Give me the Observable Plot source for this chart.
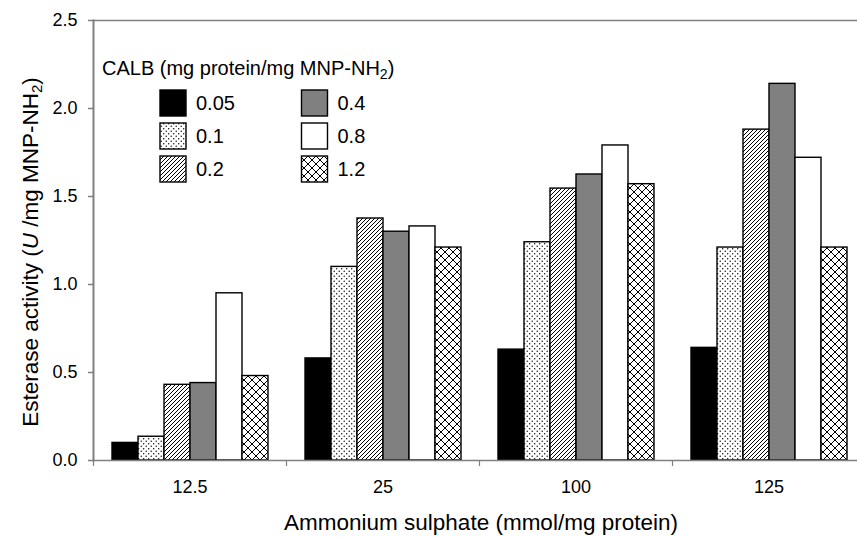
<!DOCTYPE html>
<html>
<head>
<meta charset="utf-8">
<script src="https://cdn.jsdelivr.net/npm/d3@7"></script>
<script src="https://cdn.jsdelivr.net/npm/@observablehq/plot@0.6"></script>
<style>
  html, body { margin: 0; padding: 0; background: #fff; }
  #chart { width: 857px; height: 537px; overflow: hidden; }
</style>
</head>
<body>
<div id="chart"></div>
<script>
// ---- data ----
const groups = ["12.5", "25", "100", "125"];
const calb = ["0.05", "0.1", "0.2", "0.4", "0.8", "1.2"];
const v005 = [0.10, 0.58, 0.63, 0.64];
const v01  = [0.135, 1.10, 1.24, 1.21];
const v02  = [0.43, 1.375, 1.545, 1.88];
const v04  = [0.44, 1.30, 1.625, 2.14];
const v08  = [0.95, 1.33, 1.79, 1.72];
const v12  = [0.48, 1.21, 1.57, 1.21];
const yTicks = [0, 0.5, 1.0, 1.5, 2.0, 2.5];
const fills = ["#000000", "url(#pDots)", "url(#pHatch)", "#808080", "#ffffff", "url(#pCross)"];

const series = [v005, v01, v02, v04, v08, v12];
const rows = [];
groups.forEach((g, gi) => {
  calb.forEach((c, ci) => rows.push({group: g, calb: c, value: series[ci][gi]}));
});

const FONT = "'Liberation Sans', Arial, Helvetica, sans-serif";
const gray = "#808080";

const plot = Plot.plot({
  width: 857,
  height: 537,
  marginLeft: 93,
  marginRight: -8,
  marginTop: 20,
  marginBottom: 77,
  style: {fontFamily: FONT, fontSize: "18px", background: "#fff", color: "#000"},
  fx: {domain: groups, padding: 0, axis: null, label: null},
  x: {domain: calb, padding: 0, insetLeft: 18.5, insetRight: 18.5, axis: null},
  y: {domain: [0, 2.5], axis: null},
  color: {domain: calb, range: fills},
  marks: [
    Plot.ruleY([2.5], {stroke: gray, strokeWidth: 1.5}),
    Plot.barY(rows, {fx: "group", x: "calb", y: "value", fill: "calb", stroke: "#000", strokeWidth: 1.4}),
    Plot.ruleY([0], {stroke: gray, strokeWidth: 1.5}),
    Plot.frame({anchor: "left", facetAnchor: "left", stroke: gray, strokeWidth: 2}),
    Plot.axisY({ticks: yTicks, tickFormat: d3.format(".1f"), tickSize: 5, tickPadding: 11,
      stroke: gray, strokeWidth: 1.5, fill: "#000", fontSize: 18, label: null}),
    Plot.axisFx({anchor: "bottom", tickSize: 0, tickPadding: 20, fontSize: 18, fill: "#000", label: null}),
    Plot.axisFx({anchor: "bottom", tickSize: 6, dx: -96.5, stroke: gray, strokeWidth: 1.2,
      tickFormat: () => "", label: null})
  ]
});

document.getElementById("chart").appendChild(plot);

// ---- patterns ----
const svg = d3.select(plot);
const defs = svg.insert("defs", ":first-child");
const pd = defs.append("pattern").attr("id", "pDots").attr("patternUnits", "userSpaceOnUse")
  .attr("width", 5).attr("height", 5);
pd.append("rect").attr("width", 5).attr("height", 5).attr("fill", "#fff");
pd.append("circle").attr("cx", 1.2).attr("cy", 1.2).attr("r", 0.7).attr("fill", "#000");
pd.append("circle").attr("cx", 3.7).attr("cy", 3.7).attr("r", 0.7).attr("fill", "#000");

const ph = defs.append("pattern").attr("id", "pHatch").attr("patternUnits", "userSpaceOnUse")
  .attr("width", 4).attr("height", 4);
ph.append("rect").attr("width", 4).attr("height", 4).attr("fill", "#fff");
ph.append("path").attr("d", "M-1,1 L1,-1 M0,4 L4,0 M3,5 L5,3")
  .attr("stroke", "#000").attr("stroke-width", 1);

const pc = defs.append("pattern").attr("id", "pCross").attr("patternUnits", "userSpaceOnUse")
  .attr("width", 8).attr("height", 8);
pc.append("rect").attr("width", 8).attr("height", 8).attr("fill", "#fff");
pc.append("path").attr("d", "M0,0 L8,8 M8,0 L0,8")
  .attr("stroke", "#000").attr("stroke-width", 1);

// ---- axis titles ----
const yl = svg.append("text")
  .attr("transform", "translate(38,252) rotate(-90)")
  .attr("text-anchor", "middle")
  .attr("font-family", FONT).attr("font-size", 22.5).attr("fill", "#000");
yl.append("tspan").text("Esterase activity (");
yl.append("tspan").attr("font-style", "italic").text("U");
yl.append("tspan").text(" /mg MNP-NH");
yl.append("tspan").attr("font-size", 15).attr("dy", 4).text("2");
yl.append("tspan").attr("dy", -4).text(")");

svg.append("text")
  .attr("x", 481).attr("y", 530)
  .attr("text-anchor", "middle")
  .attr("font-family", FONT).attr("font-size", 22.5).attr("fill", "#000")
  .text("Ammonium sulphate (mmol/mg protein)");

// ---- legend ----
const lt = svg.append("text").attr("x", 102).attr("y", 75)
  .attr("text-anchor", "start")
  .attr("font-family", FONT).attr("font-size", 20).attr("fill", "#000");
lt.append("tspan").text("CALB (mg protein/mg MNP-NH");
lt.append("tspan").attr("font-size", 14).attr("dy", 4).text("2");
lt.append("tspan").attr("dy", -4).text(")");

const lg = svg.append("g").attr("font-family", FONT).attr("font-size", 20).attr("text-anchor", "start");
calb.forEach((c, i) => {
  const col = Math.floor(i / 3), row = i % 3;
  const sx = 160 + col * 141.5, sy = 90 + row * 33;
  lg.append("rect").attr("x", sx).attr("y", sy).attr("width", 26).attr("height", 26)
    .attr("fill", fills[i]).attr("stroke", "#000").attr("stroke-width", 1.4);
  lg.append("text").attr("x", sx + 36).attr("y", sy + 13).attr("dy", "0.36em")
    .attr("fill", "#000").text(c);
});
</script>
</body>
</html>
